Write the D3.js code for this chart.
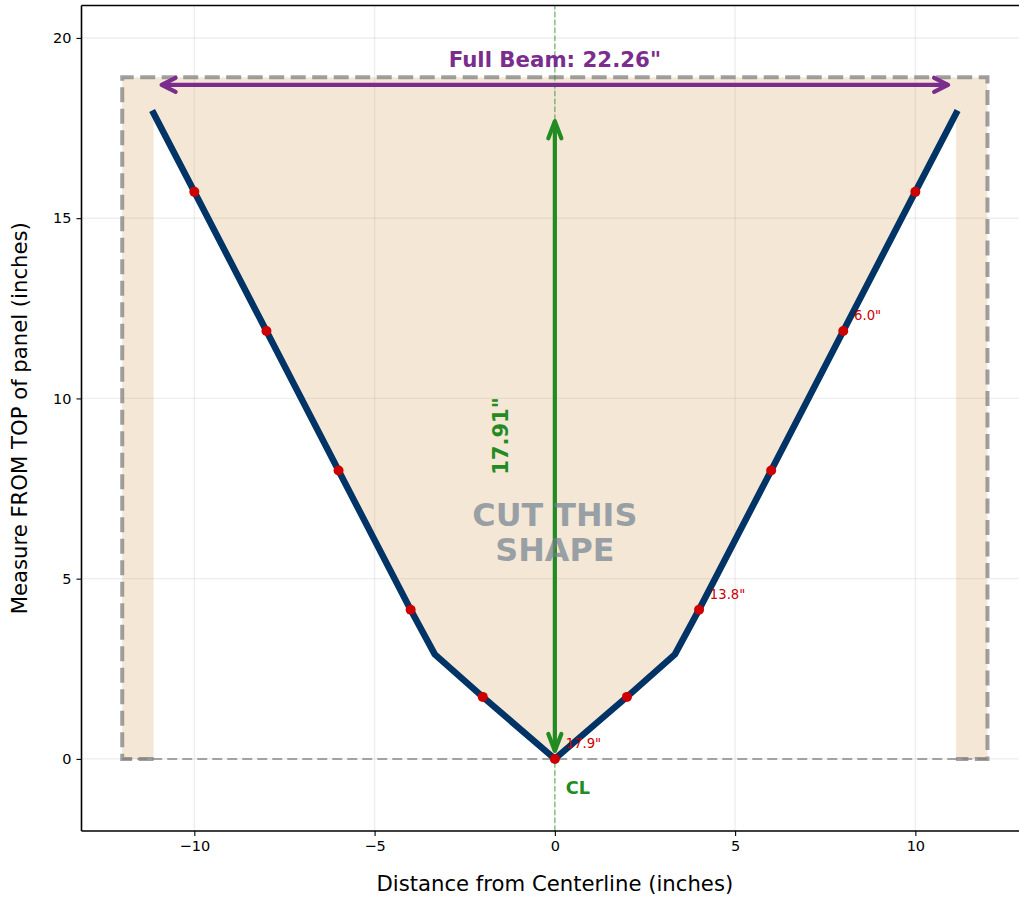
<!DOCTYPE html>
<html><head><meta charset="utf-8">
<script src="https://cdn.jsdelivr.net/npm/d3@7/dist/d3.min.js"></script>
<style>body{margin:0;background:#fff;} svg{display:block;font-family:"DejaVu Sans",sans-serif;}</style>
</head><body>
<svg id="chart" width="1019" height="900"></svg>
<script>
// ---- data ----
const hullX = [-11.13, -10, -8, -6, -4, -3.33, -2, 0, 2, 3.33, 4, 6, 8, 10, 11.13];
const hullY = [17.91, 15.73, 11.87, 8.0, 4.14, 2.9, 1.72, 0, 1.72, 2.9, 4.14, 8.0, 11.87, 15.73, 17.91];
const stationX = [-10, -8, -6, -4, -2, 0, 2, 4, 6, 8, 10];
const stationY = [15.73, 11.87, 8.0, 4.14, 1.72, 0, 1.72, 4.14, 8.0, 11.87, 15.73];
const labelX = [0, 4, 8];
const labelY = [0, 4.14, 11.87];
const labelText = ['17.9"', '13.8"', '6.0"'];
const panelHalfWidth = 12;
const panelTop = 18.91;
const halfBeam = 11.13;
const depth = 17.91;
const beamArrowY = 18.7;
const beamTitle = 'Full Beam: 22.26"';
const depthTitle = '17.91"';
const xTicks = [-10, -5, 0, 5, 10];
const yTicks = [0, 5, 10, 15, 20];
const xDomain = [-13.13, 13.13];
const yDomain = [-2, 20.9];

// ---- layout ----
const svg = d3.select('#chart');
const L = 81.5, R = 1028.2, T = 5.5, B = 831;
const x = d3.scaleLinear().domain(xDomain).range([L, R]);
const y = d3.scaleLinear().domain(yDomain).range([B, T]);

const clipId = 'plotclip';
svg.append('defs').append('clipPath').attr('id', clipId)
  .append('rect').attr('x', L).attr('y', T).attr('width', R - L).attr('height', B - T);
const plot = svg.append('g').attr('clip-path', `url(#${clipId})`);

// grid
plot.append('g').selectAll('line').data(xTicks).join('line')
  .attr('x1', d => x(d)).attr('x2', d => x(d)).attr('y1', T).attr('y2', B)
  .attr('stroke', '#b0b0b0').attr('stroke-opacity', 0.22).attr('stroke-width', 1.4);
plot.append('g').selectAll('line').data(yTicks).join('line')
  .attr('y1', d => y(d)).attr('y2', d => y(d)).attr('x1', L).attr('x2', R)
  .attr('stroke', '#b0b0b0').attr('stroke-opacity', 0.22).attr('stroke-width', 1.4);

// fill region (panel minus area under hull)
const hullPts = hullX.map((v, i) => [v, hullY[i]]);
const fillPts = [[-panelHalfWidth, 0], [-panelHalfWidth, panelTop], [panelHalfWidth, panelTop], [panelHalfWidth, 0], [halfBeam, 0]]
  .concat(hullPts.slice().reverse())
  .concat([[-halfBeam, 0]]);
const line = d3.line().x(d => x(d[0])).y(d => y(d[1]));
plot.append('path').attr('d', line(fillPts) + 'Z')
  .attr('fill', '#d2a05a').attr('fill-opacity', 0.25).attr('stroke', 'none');

// y=0 reference dashed
plot.append('path').attr('d', line([[-panelHalfWidth, 0], [panelHalfWidth, 0]]))
  .attr('fill', 'none').attr('stroke', '#808080').attr('stroke-opacity', 0.7)
  .attr('stroke-width', 2).attr('stroke-dasharray', '10,5');

// panel outline dashed
plot.append('path').attr('d', line([[-halfBeam, 0], [-panelHalfWidth, 0], [-panelHalfWidth, panelTop], [panelHalfWidth, panelTop], [panelHalfWidth, 0], [halfBeam, 0]]))
  .attr('fill', 'none').attr('stroke', '#808080').attr('stroke-opacity', 0.75)
  .attr('stroke-width', 4).attr('stroke-dasharray', '15,6.5');

// centerline
plot.append('path').attr('d', line([[0, yDomain[0]], [0, yDomain[1]]]))
  .attr('fill', 'none').attr('stroke', '#228B22').attr('stroke-opacity', 0.5)
  .attr('stroke-width', 1.5).attr('stroke-dasharray', '5.5,2.4');

// hull line
plot.append('path').attr('d', line(hullPts))
  .attr('fill', 'none').attr('stroke', '#003366').attr('stroke-width', 6.5)
  .attr('stroke-linejoin', 'round').attr('stroke-linecap', 'square');

// station markers
plot.append('g').selectAll('circle').data(stationX).join('circle')
  .attr('cx', d => x(d)).attr('cy', (d, i) => y(stationY[i])).attr('r', 5)
  .attr('fill', '#cc0000');

// labels
plot.append('g').selectAll('text').data(labelX).join('text')
  .attr('x', d => x(d + 0.3)).attr('y', (d, i) => y(labelY[i] + 0.3))
  .attr('fill', '#cc0000').attr('font-size', 13.2).text((d, i) => labelText[i]);

// arrows
function arrow(g, x1, y1, x2, y2, color, lw, shrink, hl, hw) {
  const dx = x2 - x1, dy = y2 - y1, len = Math.hypot(dx, dy);
  const ux = dx / len, uy = dy / len;
  const ax = x1 + ux * shrink, ay = y1 + uy * shrink;
  const bx = x2 - ux * shrink, by = y2 - uy * shrink;
  g.append('line').attr('x1', ax).attr('y1', ay).attr('x2', bx).attr('y2', by)
    .attr('stroke', color).attr('stroke-width', lw);
  const head = (tx, ty, dirx, diry) => {
    const px = -diry, py = dirx;
    const p = [[tx - dirx * hl + px * hw, ty - diry * hl + py * hw], [tx, ty], [tx - dirx * hl - px * hw, ty - diry * hl - py * hw]];
    g.append('path').attr('d', 'M' + p.map(q => q.join(',')).join('L'))
      .attr('fill', 'none').attr('stroke', color).attr('stroke-width', lw)
      .attr('stroke-linejoin', 'round').attr('stroke-linecap', 'round');
  };
  head(bx, by, ux, uy);
  head(ax, ay, -ux, -uy);
}
const ag = plot.append('g');
arrow(ag, x(-halfBeam), y(beamArrowY), x(halfBeam), y(beamArrowY), '#7B2D8E', 4.2, 8, 14, 7);
arrow(ag, x(0), y(0), x(0), y(depth), '#228B22', 4.2, 8, 17, 6.5);

// texts
plot.append('text').attr('x', x(0)).attr('y', y(19.4)).attr('text-anchor', 'middle')
  .attr('dominant-baseline', 'central').attr('font-weight', 'bold').attr('font-size', 21.3)
  .attr('fill', '#7B2D8E').text(beamTitle);
plot.append('text').attr('transform', `translate(${x(-1.5)},${y(depth / 2)}) rotate(-90)`)
  .attr('text-anchor', 'middle').attr('dominant-baseline', 'central')
  .attr('font-weight', 'bold').attr('font-size', 21).attr('fill', '#228B22').text(depthTitle);
const cut = plot.append('text').attr('text-anchor', 'middle').attr('font-weight', 'bold')
  .attr('font-size', 31.8).attr('fill', '#708090').attr('fill-opacity', 0.7);
cut.append('tspan').attr('x', x(0)).attr('y', y(6.3) - 6).text('CUT THIS');
cut.append('tspan').attr('x', x(0)).attr('y', y(6.3) + 29).text('SHAPE');
plot.append('text').attr('x', x(0.3)).attr('y', y(-0.8)).attr('dominant-baseline', 'central')
  .attr('font-weight', 'bold').attr('font-size', 17.7).attr('fill', '#228B22').text('CL');

// axes
const xAxis = svg.append('g').attr('transform', `translate(0,${B})`)
  .call(d3.axisBottom(x).tickValues(xTicks).tickSize(5).tickPadding(5));
const yAxis = svg.append('g').attr('transform', `translate(${L},0)`)
  .call(d3.axisLeft(y).tickValues(yTicks).tickSize(5).tickPadding(5));
[xAxis, yAxis].forEach(a => {
  a.select('.domain').remove();
  a.selectAll('.tick line').attr('stroke', '#000').attr('stroke-width', 1.1);
  a.selectAll('.tick text').attr('font-size', 14.5).attr('fill', '#000').attr('font-family', '"DejaVu Sans",sans-serif');
});
// spines
svg.append('line').attr('x1', L).attr('x2', L).attr('y1', T).attr('y2', B).attr('stroke', '#000').attr('stroke-width', 1.6);
svg.append('line').attr('x1', L).attr('x2', R).attr('y1', B).attr('y2', B).attr('stroke', '#000').attr('stroke-width', 1.6);
svg.append('line').attr('x1', L).attr('x2', R).attr('y1', T).attr('y2', T).attr('stroke', '#000').attr('stroke-width', 1.6);

svg.append('text').attr('x', x(0)).attr('y', 891).attr('text-anchor', 'middle')
  .attr('font-size', 21.2).attr('fill', '#000').text('Distance from Centerline (inches)');
svg.append('text').attr('transform', `translate(27,${(T + B) / 2}) rotate(-90)`).attr('text-anchor', 'middle')
  .attr('font-size', 21.2).attr('fill', '#000').text('Measure FROM TOP of panel (inches)');
</script>
</body></html>
